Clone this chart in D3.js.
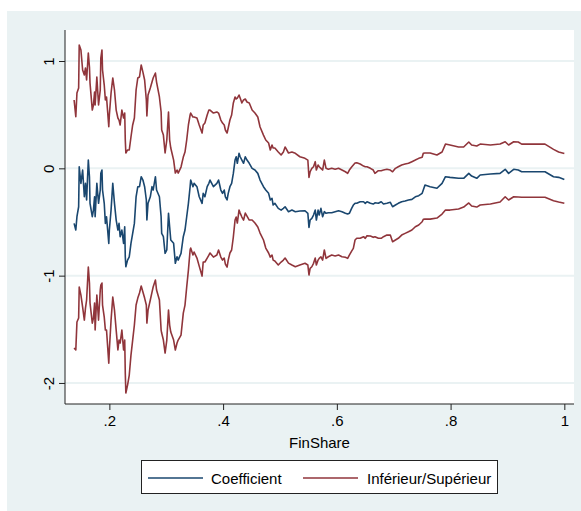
<!DOCTYPE html>
<head>
  <meta charset="utf-8" />
  <title>FinShare coefficient</title>
  <script src="https://d3js.org/d3.v7.min.js"></script>
  <style>
    body { margin: 0; background: #fff; }
    text { font-family: "Liberation Sans", Arial, sans-serif; fill: #000; }
  </style>
</head>
<body>
<script>
  // values
  const finShare = [
    0.138,0.141,0.143,0.146,0.147,0.150,0.153,0.156,0.158,0.160,
    0.163,0.165,0.166,0.170,0.172,0.174,0.175,0.178,0.181,0.184,
    0.185,0.187,0.188,0.191,0.193,0.195,0.199,0.200,0.203,0.206,
    0.209,0.212,0.215,0.217,0.219,0.222,0.225,0.227,0.228,0.229,
    0.232,0.235,0.238,0.241,0.244,0.247,0.250,0.253,0.256,0.259,
    0.262,0.265,0.266,0.268,0.272,0.275,0.277,0.281,0.283,0.288,
    0.291,0.292,0.295,0.298,0.301,0.304,0.306,0.308,0.313,0.316,
    0.319,0.321,0.326,0.330,0.333,0.336,0.339,0.342,0.343,0.347,
    0.349,0.354,0.358,0.363,0.365,0.368,0.372,0.375,0.377,0.383,
    0.389,0.392,0.396,0.399,0.402,0.404,0.407,0.409,0.412,0.415,
    0.418,0.421,0.423,0.425,0.428,0.430,0.433,0.436,0.439,0.442,
    0.446,0.451,0.456,0.461,0.465,0.471,0.475,0.480,0.483,0.486,
    0.488,0.491,0.497,0.502,0.506,0.509,0.515,0.521,
    0.527,0.535,0.544,0.549,0.551,0.553,0.556,0.559,0.562,0.564,
    0.567,0.569,0.572,0.575,0.578,0.581,0.585,0.591,0.597,0.603,
    0.609,0.615,0.619,0.622,0.626,0.629,0.632,0.635,0.641,0.647,
    0.650,0.653,0.659,0.664,0.667,0.673,0.678,0.682,0.688,0.694,
    0.698,0.703,0.708,0.714,0.720,0.726,0.732,0.738,0.744,0.750,
    0.752,
    0.755,0.764,0.776,0.785,0.791,0.799,0.814,0.823,0.832,0.837,
    0.846,0.852,0.870,0.887,0.896,0.902,0.911,0.919,0.925,0.966,
    0.981,0.990,1.000
  ];

  const coef = [
    -0.513,-0.575,-0.451,-0.358,0.015,-0.140,-0.016,-0.265,-0.140,-0.295,
    0.077,-0.078,-0.326,-0.451,-0.389,-0.265,-0.451,-0.140,-0.326,-0.202,
    -0.047,-0.016,-0.202,-0.326,-0.513,-0.451,-0.699,-0.575,-0.389,-0.140,
    -0.326,-0.482,-0.575,-0.513,-0.637,-0.575,-0.699,-0.544,-0.824,-0.917,
    -0.855,-0.824,-0.699,-0.606,-0.513,-0.265,-0.171,-0.171,-0.078,-0.109,
    -0.171,-0.295,-0.482,-0.326,-0.265,-0.171,-0.202,-0.078,-0.202,-0.265,
    -0.451,-0.606,-0.637,-0.792,-0.761,-0.419,-0.544,-0.668,-0.699,-0.885,
    -0.824,-0.855,-0.792,-0.637,-0.575,-0.451,-0.326,-0.171,-0.109,-0.171,
    -0.140,-0.171,-0.265,-0.326,-0.233,-0.265,-0.171,-0.140,-0.109,-0.171,
    -0.140,-0.109,-0.202,-0.233,-0.202,-0.265,-0.295,-0.233,-0.171,-0.140,
    -0.047,0.077,0.108,0.047,0.140,0.108,0.077,0.047,0.108,0.077,
    0.047,0.000,-0.016,-0.047,-0.109,-0.171,-0.202,-0.233,-0.295,-0.280,
    -0.342,-0.326,-0.373,-0.389,-0.373,-0.358,-0.404,-0.389,
    -0.404,-0.398,-0.395,-0.419,-0.550,-0.482,-0.466,-0.435,-0.389,-0.482,
    -0.389,-0.435,-0.373,-0.451,-0.404,-0.419,-0.414,-0.414,-0.404,-0.395,
    -0.404,-0.419,-0.426,-0.419,-0.373,-0.342,-0.326,-0.326,-0.311,-0.311,
    -0.326,-0.311,-0.326,-0.333,-0.321,-0.326,-0.311,-0.333,-0.326,-0.317,
    -0.358,-0.342,-0.326,-0.311,-0.305,-0.295,-0.289,-0.265,-0.255,-0.233,
    -0.202,
    -0.156,-0.171,-0.186,-0.140,-0.078,-0.084,-0.093,-0.093,-0.047,-0.072,
    -0.093,-0.062,-0.053,-0.047,-0.009,-0.047,-0.009,-0.016,-0.032,-0.032,
    -0.078,-0.084,-0.103
  ];

  const upper = [
    0.637,0.481,0.702,0.748,1.149,1.103,0.916,0.870,0.935,0.823,
    1.075,0.944,0.795,0.543,0.590,0.711,0.590,0.851,0.590,0.730,
    1.028,1.103,0.916,0.776,0.637,0.665,0.388,0.497,0.702,0.842,
    0.730,0.543,0.469,0.450,0.404,0.543,0.469,0.515,0.264,0.143,
    0.171,0.171,0.292,0.404,0.469,0.730,0.842,0.851,0.963,0.897,
    0.823,0.637,0.487,0.683,0.748,0.804,0.842,0.888,0.804,0.665,
    0.525,0.357,0.310,0.143,0.264,0.525,0.264,0.189,0.077,-0.044,
    -0.016,-0.044,0.012,0.105,0.152,0.264,0.404,0.497,0.515,0.478,
    0.478,0.469,0.404,0.329,0.404,0.422,0.497,0.543,0.543,0.515,
    0.525,0.515,0.450,0.422,0.404,0.357,0.329,0.376,0.450,0.497,
    0.609,0.665,0.646,0.655,0.683,0.655,0.609,0.637,0.646,0.618,
    0.609,0.543,0.515,0.478,0.385,0.310,0.264,0.236,0.171,0.217,
    0.189,0.189,0.152,0.124,0.152,0.199,0.143,0.152,
    0.140,0.108,0.093,0.077,-0.084,-0.032,0.000,0.015,0.062,-0.016,
    0.031,0.015,0.000,-0.016,0.077,0.000,-0.009,0.000,-0.009,0.000,
    -0.016,-0.032,-0.047,-0.016,0.012,0.031,0.049,0.052,0.040,0.021,
    0.015,0.015,0.000,-0.016,-0.047,-0.022,-0.022,-0.016,-0.009,-0.016,
    -0.032,0.000,0.015,0.031,0.040,0.047,0.062,0.077,0.093,0.103,
    0.140,
    0.143,0.143,0.124,0.152,0.226,0.217,0.199,0.199,0.245,0.217,
    0.208,0.226,0.217,0.226,0.248,0.217,0.248,0.245,0.226,0.226,
    0.177,0.152,0.138
  ];

  const lower = [
    -1.675,-1.693,-1.432,-1.395,-1.106,-1.181,-1.293,-1.414,-1.302,-1.227,
    -0.920,-1.069,-1.255,-1.442,-1.395,-1.255,-1.507,-1.181,-1.414,-1.134,
    -1.088,-1.069,-1.274,-1.386,-1.507,-1.507,-1.815,-1.693,-1.414,-1.199,
    -1.321,-1.507,-1.693,-1.600,-1.628,-1.507,-1.693,-1.600,-1.908,-2.094,
    -2.020,-1.926,-1.740,-1.600,-1.460,-1.274,-1.209,-1.162,-1.097,-1.153,
    -1.209,-1.274,-1.442,-1.321,-1.227,-1.153,-1.106,-1.041,-1.134,-1.227,
    -1.507,-1.535,-1.600,-1.721,-1.600,-1.321,-1.460,-1.526,-1.600,-1.693,
    -1.628,-1.600,-1.554,-1.349,-1.274,-1.106,-0.948,-0.761,-0.743,-0.808,
    -0.780,-0.836,-0.911,-1.004,-0.873,-0.873,-0.836,-0.808,-0.789,-0.827,
    -0.808,-0.761,-0.827,-0.855,-0.836,-0.892,-0.920,-0.855,-0.789,-0.761,
    -0.640,-0.482,-0.454,-0.510,-0.389,-0.417,-0.454,-0.482,-0.417,-0.445,
    -0.482,-0.482,-0.510,-0.547,-0.603,-0.668,-0.743,-0.789,-0.827,-0.808,
    -0.855,-0.864,-0.901,-0.873,-0.855,-0.836,-0.883,-0.901,
    -0.917,-0.901,-0.885,-0.901,-0.994,-0.932,-0.917,-0.885,-0.836,-0.901,
    -0.855,-0.839,-0.824,-0.855,-0.761,-0.839,-0.824,-0.808,-0.817,-0.808,
    -0.824,-0.829,-0.839,-0.808,-0.771,-0.746,-0.668,-0.652,-0.652,-0.637,
    -0.652,-0.628,-0.631,-0.643,-0.637,-0.652,-0.652,-0.637,-0.622,-0.622,
    -0.684,-0.668,-0.652,-0.622,-0.606,-0.591,-0.575,-0.544,-0.528,-0.498,
    -0.475,
    -0.473,-0.473,-0.463,-0.426,-0.389,-0.389,-0.379,-0.361,-0.323,-0.351,
    -0.361,-0.342,-0.333,-0.314,-0.265,-0.295,-0.265,-0.267,-0.270,-0.270,
    -0.302,-0.314,-0.326
  ];

  const xTicks = [0.2, 0.4, 0.6, 0.8, 1];
  const xTickLabels = [".2", ".4", ".6", ".8", "1"];
  const yTicks = [1, 0, -1, -2];
  const yTickLabels = ["1", "0", "-1", "-2"];
  const xTitle = "FinShare";
  const legendLabels = ["Coefficient", "Inférieur/Supérieur"];

  const width = 581, height = 511;
  const bg = "#eaf2f3";
  const navy = "#1a476f", maroon = "#90353b";
  const plot = { left: 65, right: 574, top: 30, bottom: 404 };

  const svg = d3.select("body").append("svg")
    .attr("width", width)
    .attr("height", height);

  svg.append("rect")
    .attr("x", 7).attr("y", 11)
    .attr("width", width - 7).attr("height", height - 11)
    .attr("fill", bg);

  svg.append("rect")
    .attr("x", plot.left).attr("y", plot.top)
    .attr("width", plot.right - plot.left).attr("height", plot.bottom - plot.top)
    .attr("fill", "#fff");

  const x = d3.scaleLinear().domain([0.122, 1.017]).range([plot.left, plot.right]);
  const y = d3.scaleLinear().domain([-2.196, 1.289]).range([plot.bottom, plot.top]);

  // grid lines
  svg.append("g")
    .selectAll("line")
    .data(yTicks)
    .join("line")
    .attr("x1", plot.left).attr("x2", plot.right)
    .attr("y1", (d) => y(d)).attr("y2", (d) => y(d))
    .attr("stroke", bg)
    .attr("stroke-width", 2);

  // series
  const rows = finShare.map((f, i) => ({ f, c: coef[i], lo: lower[i], hi: upper[i] }));
  const line = (key) => d3.line()
    .defined((d) => d[key] != null)
    .x((d) => x(d.f))
    .y((d) => y(d[key]));

  const series = [
    { key: "hi", color: maroon },
    { key: "lo", color: maroon },
    { key: "c", color: navy },
  ];
  svg.append("g")
    .selectAll("path")
    .data(series)
    .join("path")
    .attr("d", (s) => line(s.key)(rows))
    .attr("fill", "none")
    .attr("stroke", (s) => s.color)
    .attr("stroke-width", 1.6)
    .attr("stroke-linejoin", "round");

  // axes
  const xAxis = d3.axisBottom(x)
    .tickValues(xTicks)
    .tickSize(6)
    .tickPadding(5)
    .tickFormat((d, i) => xTickLabels[i]);
  const gx = svg.append("g")
    .attr("transform", `translate(0,${plot.bottom})`)
    .call(xAxis);
  gx.selectAll("text").attr("font-size", 15).attr("font-family", null);
  gx.select(".domain").attr("d", `M${plot.left},0H${plot.right}`).attr("stroke", "#222");
  gx.selectAll(".tick line").attr("stroke", "#222");

  const yAxis = d3.axisLeft(y)
    .tickValues(yTicks)
    .tickSize(6)
    .tickFormat((d, i) => yTickLabels[i]);
  const gy = svg.append("g")
    .attr("transform", `translate(${plot.left},0)`)
    .call(yAxis);
  gy.select(".domain").attr("d", `M0,${plot.top}V${plot.bottom}`).attr("stroke", "#222");
  gy.selectAll(".tick line").attr("stroke", "#222");
  gy.selectAll(".tick text")
    .attr("x", null).attr("dy", null)
    .attr("font-size", 15).attr("font-family", null)
    .attr("text-anchor", "middle")
    .attr("transform", "translate(-11.5,0) rotate(-90)");

  svg.append("text")
    .attr("x", (plot.left + plot.right) / 2)
    .attr("y", 448)
    .attr("text-anchor", "middle")
    .attr("font-size", 15)
    .text(xTitle);

  // legend
  const legend = svg.append("g");
  legend.append("rect")
    .attr("x", 141.5).attr("y", 460.5)
    .attr("width", 356).attr("height", 33)
    .attr("fill", "#fff")
    .attr("stroke", "#222")
    .attr("stroke-width", 1);

  const items = [
    { label: legendLabels[0], color: navy, x0: 148, tx: 211 },
    { label: legendLabels[1], color: maroon, x0: 303, tx: 367 },
  ];
  const li = legend.selectAll("g.item").data(items).join("g").attr("class", "item");
  li.append("line")
    .attr("x1", (d) => d.x0).attr("x2", (d) => d.x0 + 55)
    .attr("y1", 478).attr("y2", 478)
    .attr("stroke", (d) => d.color)
    .attr("stroke-width", 1.6);
  li.append("text")
    .attr("x", (d) => d.tx)
    .attr("y", 483.5)
    .attr("font-size", 15)
    .text((d) => d.label);
</script>
</body>
